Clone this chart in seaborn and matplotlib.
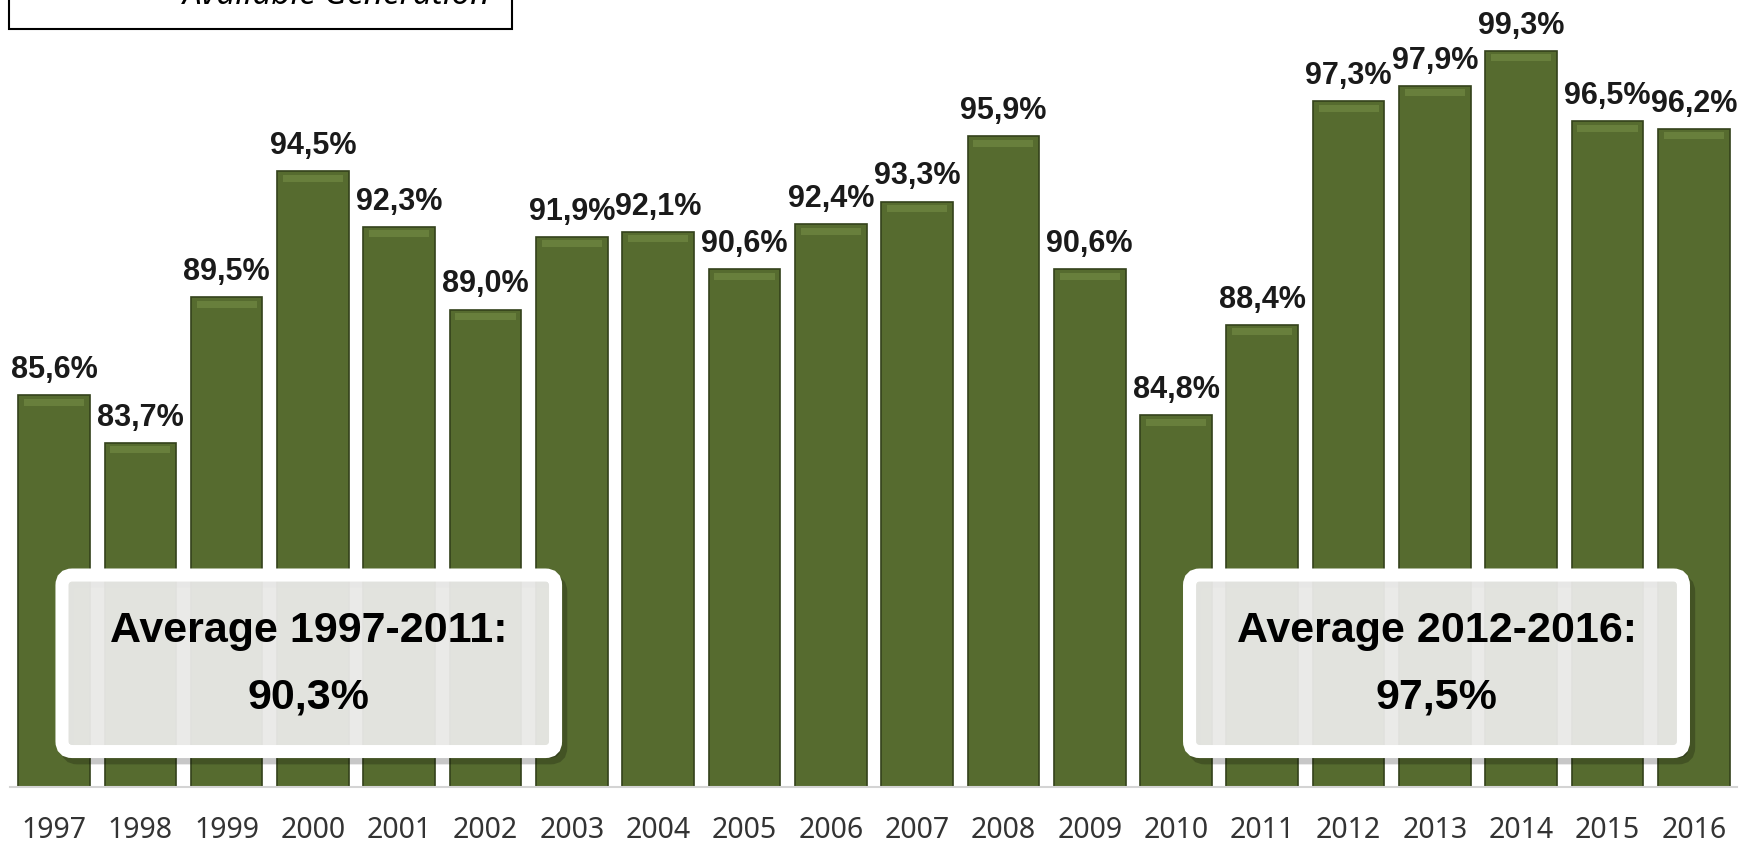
import matplotlib
matplotlib.use("Agg")
import matplotlib.pyplot as plt
import matplotlib.patches as mpatches
import seaborn as sns
import pandas as pd

# --- chart data ---
years = ["1997", "1998", "1999", "2000", "2001", "2002", "2003", "2004", "2005", "2006",
         "2007", "2008", "2009", "2010", "2011", "2012", "2013", "2014", "2015", "2016"]
availability = [85.6, 83.7, 89.5, 94.5, 92.3, 89.0, 91.9, 92.1, 90.6, 92.4,
                 93.3, 95.9, 90.6, 84.8, 88.4, 97.3, 97.9, 99.3, 96.5, 96.2]
avg_labels = ["Average 1997-2011:\n90,3%", "Average 2012-2016:\n97,5%"]
legend_text = "Available Generation"

bar_color = "#566b2f"
bold_font = ["Liberation Sans", "DejaVu Sans"]

sns.set_style("white")
plt.rcParams["font.family"] = ["Noto Sans", "DejaVu Sans"]

df = pd.DataFrame({"Year": years, "Availability": availability})

fig = plt.figure(figsize=(17.57, 8.45), dpi=100)
ax = fig.add_axes([10 / 1757, 57 / 845, 1727 / 1757, 788 / 845])

sns.barplot(data=df, x="Year", y="Availability", color=bar_color, saturation=1,
            width=0.83, edgecolor="#34421b", linewidth=1.2, ax=ax)

ax.set_ylim(70, 101.36)
ax.set_xlim(-0.51, 19.5)

# bevel highlight near the top of each bar
for p in list(ax.patches):
    x0, w, h = p.get_x(), p.get_width(), p.get_height()
    ax.add_patch(mpatches.Rectangle((x0 + w * 0.08, h - 0.42), w * 0.84, 0.28,
                                    facecolor="#687f3c", edgecolor="none", zorder=3))

labels = [f"{v:.1f}%".replace(".", ",") for v in availability]
ax.bar_label(ax.containers[0], labels=labels, padding=8, fontsize=22,
             fontweight="bold", color="#1a1a1a", family=bold_font)

ax.set_xlabel("")
ax.set_ylabel("")
ax.set_yticks([])
ax.tick_params(axis="x", length=0, pad=20, labelsize=20.5, labelcolor="#333333")
for s in ["top", "left", "right"]:
    ax.spines[s].set_visible(False)
ax.spines["bottom"].set_color("#d4d4d4")
ax.spines["bottom"].set_linewidth(1.5)

# average boxes
bb = ax.get_window_extent()
aspect = bb.width / bb.height
boxes = [(0.0301, 0.2858), (0.683, 0.2860)]
for (bx, bw), txt in zip(boxes, avg_labels):
    by, bh = 0.045, 0.224
    shadow = mpatches.FancyBboxPatch((bx + 0.003, by - 0.008), bw, bh,
                                     boxstyle="round,pad=0,rounding_size=0.006",
                                     mutation_aspect=aspect, transform=ax.transAxes,
                                     facecolor=(0, 0, 0, 0.22), edgecolor=(0, 0, 0, 0.22),
                                     linewidth=9.4, zorder=4)
    ax.add_patch(shadow)
    box = mpatches.FancyBboxPatch((bx, by), bw, bh,
                                  boxstyle="round,pad=0,rounding_size=0.006",
                                  mutation_aspect=aspect, transform=ax.transAxes,
                                  facecolor=(0.93, 0.93, 0.92, 0.94), edgecolor="white",
                                  linewidth=9.4, zorder=5)
    ax.add_patch(box)
    ax.text(bx + bw / 2, by + bh / 2, txt, transform=ax.transAxes, ha="center",
            va="center", fontsize=31, fontweight="bold", color="black",
            family=bold_font, linespacing=1.85, zorder=6)

# legend box cut off at the top
fig.patches.append(mpatches.Rectangle((9 / 1757, 815 / 845), 503 / 1757, 0.2,
                                      transform=fig.transFigure, facecolor="white",
                                      edgecolor="black", linewidth=1.5))
fig.text(490 / 1757, 841 / 845, legend_text, ha="right", va="baseline",
         fontsize=24, style="italic", color="black")

fig.savefig("out.png", dpi=100)
